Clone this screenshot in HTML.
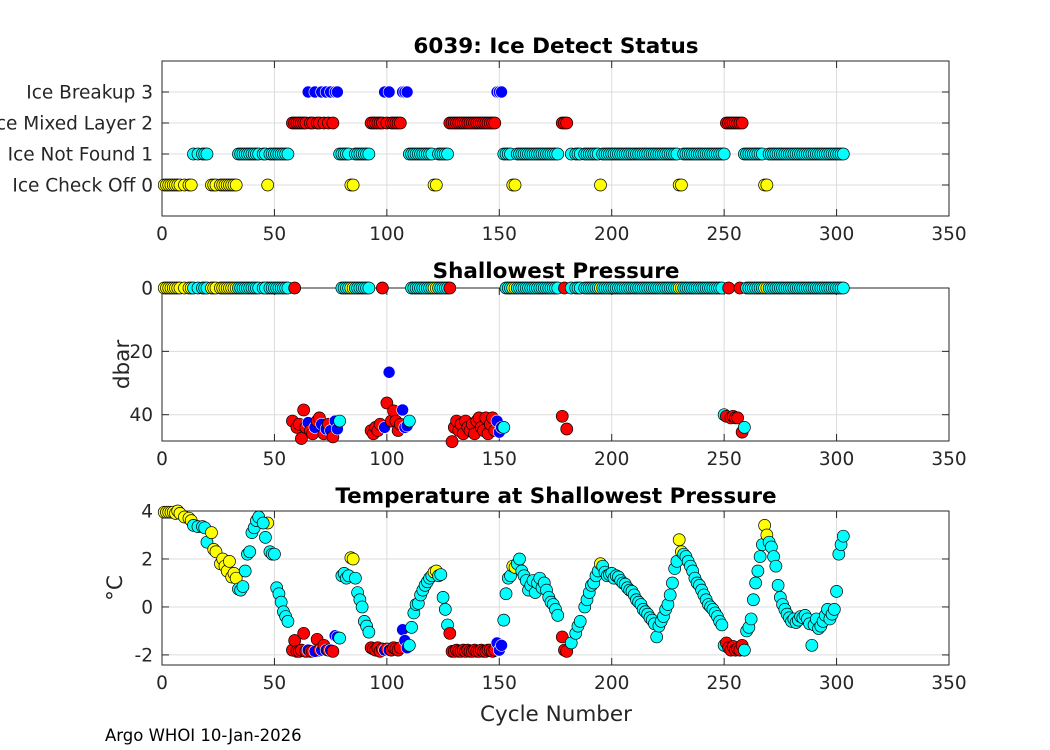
<!DOCTYPE html>
<html><head><meta charset="utf-8">
<style>
html,body{margin:0;padding:0;background:#fff;}
svg{display:block;font-family:"DejaVu Sans","Liberation Sans",sans-serif;}
</style></head>
<body>
<svg id="fig" width="1050" height="750" viewBox="0 0 1050 750" xmlns="http://www.w3.org/2000/svg"></svg>
<script>
const cycles=[
1,2,3,4,5,6,7,8,10,12,
13,14,16,18,19,20,22,23,24,26,
27,28,29,30,31,32,33,34,35,36,
37,38,39,40,41,42,43,47,45,46,
48,49,50,51,52,53,54,55,56,
58,59,60,61,62,63,64,65,66,67,
68,69,70,71,72,73,74,75,76,77,
78,79,80,81,82,83,84,85,86,87,
88,89,90,91,92,
93,94,95,96,97,98,99,100,101,102,
103,104,105,106,107,108,109,110,111,112,
113,114,115,116,117,118,119,120,121,122,
123,124,125,126,127,
128,129,130,131,132,133,134,135,136,137,
138,139,140,141,142,143,144,145,146,147,
148,149,150,151,152,153,154,155,156,157,
158,159,160,161,162,163,164,165,166,167,
168,169,170,171,172,173,174,175,176,
178,179,180,182,184,185,186,188,189,190,
191,192,193,194,195,196,197,198,199,200,
201,202,203,204,205,206,207,208,209,210,
211,212,213,214,215,216,217,218,219,220,
221,222,223,224,225,226,227,228,229,230,
231,232,233,234,235,236,237,238,239,240,
241,242,243,244,245,246,247,248,249,
250,251,252,253,254,255,256,257,258,259,
260,261,262,263,264,265,266,267,268,269,
270,271,272,273,274,275,276,277,278,279,
280,281,282,283,284,285,286,287,288,289,
290,291,292,293,294,295,296,297,298,299,
300,301,302,303];
const status=[
0,0,0,0,0,0,0,0,0,0,
0,1,1,1,1,1,0,0,0,0,
0,0,0,0,0,0,0,1,1,1,
1,1,1,1,1,1,1,0,1,1,
1,1,1,1,1,1,1,1,1,
2,2,2,2,2,2,2,3,2,2,
3,2,2,3,2,3,2,3,2,3,
3,1,1,1,1,1,0,0,1,1,
1,1,1,1,1,
2,2,2,2,2,2,3,2,3,2,
2,2,2,2,3,3,3,1,1,1,
1,1,1,1,1,1,1,1,0,0,
1,1,1,1,1,
2,2,2,2,2,2,2,2,2,2,
2,2,2,2,2,2,2,2,2,2,
2,3,3,3,1,1,1,1,0,0,
1,1,1,1,1,1,1,1,1,1,
1,1,1,1,1,1,1,1,1,
2,2,2,1,1,1,1,1,1,1,
1,1,1,1,0,1,1,1,1,1,
1,1,1,1,1,1,1,1,1,1,
1,1,1,1,1,1,1,1,1,1,
1,1,1,1,1,1,1,1,1,0,
0,1,1,1,1,1,1,1,1,1,
1,1,1,1,1,1,1,1,1,
1,2,2,2,2,2,2,2,2,1,
1,1,1,1,1,1,1,1,0,0,
1,1,1,1,1,1,1,1,1,1,
1,1,1,1,1,1,1,1,1,1,
1,1,1,1,1,1,1,1,1,1,
1,1,1,1];
const pressure=[
0,0,0,0,0,0,0,0,0,0,
0,0,0,0,0,0,0,0,0,0,
0,0,0,0,0,0,0,0,0,0,
0,0,0,0,0,0,0,0,0,0,
0,0,0,0,0,0,0,0,0,
42,0,44,43,47.5,38.5,44,42.5,45,46,
44,42,41,43,46,44.5,43,45,47,42,
44.5,42,0,0,0,0,0,0,0,0,
0,0,0,0,0,
45,46,44,45,43,0,44,36.3,26.6,42,
38.8,42,45,43,38.5,44,43.5,42,0,0,
0,0,0,0,0,0,0,0,0,0,
0,0,0,0,0,
0,48.5,44,42,45,43,46,42,44,45,
43,46,42,41,44,45,41,46,43,41,
45,42,45.5,44,44,0,0,0,0,0,
0,0,0,0,0,0,0,0,0,0,
0,0,0,0,0,0,0,0,0,
40.5,0,44.5,0,0,0,0,0,0,0,
0,0,0,0,0,0,0,0,0,0,
0,0,0,0,0,0,0,0,0,0,
0,0,0,0,0,0,0,0,0,0,
0,0,0,0,0,0,0,0,0,0,
0,0,0,0,0,0,0,0,0,0,
0,0,0,0,0,0,0,0,0,
40,40.5,0,41,40.5,41,41,0,45.5,44,
0,0,0,0,0,0,0,0,0,0,
0,0,0,0,0,0,0,0,0,0,
0,0,0,0,0,0,0,0,0,0,
0,0,0,0,0,0,0,0,0,0,
0,0,0,0];
const temperature=[
3.95,3.95,3.95,3.95,3.95,3.9,4.0,3.9,3.75,3.7,
3.6,3.4,3.35,3.35,3.3,2.7,3.1,2.4,2.3,1.8,
2.0,1.7,1.5,1.9,1.25,1.4,1.2,0.75,0.7,0.85,
1.5,2.2,2.3,3.1,3.3,3.6,3.75,3.5,3.5,2.9,
2.3,2.2,2.2,0.8,0.55,0.2,-0.2,-0.4,-0.6,
-1.8,-1.4,-1.85,-1.85,-1.8,-1.1,-1.85,-1.8,-1.85,-1.85,
-1.85,-1.35,-1.8,-1.8,-1.6,-1.8,-1.8,-1.8,-1.85,-1.2,
-1.25,-1.3,1.3,1.4,1.2,1.3,2.05,2.0,1.2,0.6,
0.3,0,-0.6,-0.8,-1.05,
-1.7,-1.75,-1.8,-1.7,-1.85,-1.75,-1.8,-1.75,-1.8,-1.8,
-1.7,-1.75,-1.8,-1.7,-0.95,-1.4,-1.7,-1.6,-0.85,-0.25,
0.1,0.15,0.5,0.7,0.9,1.05,1.2,1.3,1.45,1.5,
1.3,1.35,0.4,-0.1,-0.75,
-1.1,-1.85,-1.85,-1.8,-1.85,-1.85,-1.8,-1.85,-1.8,-1.85,
-1.85,-1.8,-1.85,-1.85,-1.8,-1.85,-1.85,-1.8,-1.8,-1.85,
-1.8,-1.5,-1.8,-1.6,-0.55,0.55,1.2,1.3,1.7,1.65,
1.8,2.0,1.5,1.3,1.1,0.7,0.9,1.1,0.6,1.0,
1.2,0.8,1.0,0.7,0.4,0.2,0.1,-0.1,-0.35,
-1.25,-1.8,-1.85,-1.5,-1.1,-0.8,-0.6,0,0.3,0.6,
0.9,1.0,1.3,1.5,1.8,1.7,1.45,1.3,1.35,1.4,
1.2,1.3,1.25,1.1,1.0,0.95,0.8,0.7,0.65,0.5,
0.3,0.2,0.1,-0.1,-0.2,-0.3,-0.45,-0.55,-0.7,-1.25,
-0.8,-0.6,-0.4,-0.1,0.1,0.5,1.0,1.6,1.9,2.8,
2.3,2.2,2.1,1.9,1.7,1.5,1.2,1.0,0.9,0.7,
0.5,0.3,0.1,0.0,-0.1,-0.25,-0.4,-0.6,-0.75,
-1.6,-1.5,-1.7,-1.8,-1.65,-1.8,-1.75,-1.8,-1.6,-1.8,
-1.0,-0.85,-0.5,0.3,1.0,1.5,2.1,2.6,3.4,3.0,
2.7,2.5,2.1,1.7,0.9,0.4,0.1,-0.1,-0.3,-0.45,
-0.6,-0.5,-0.65,-0.55,-0.4,-0.45,-0.35,-0.5,-0.7,-1.6,
-0.75,-0.5,-0.9,-0.8,-0.6,-0.35,-0.1,-0.5,-0.3,-0.1,
0.65,2.2,2.6,2.95];
const xTicks=[0,50,100,150,200,250,300,350];
const statusTicks=[0,1,2,3];
const statusLabels=["Ice Check Off 0","Ice Not Found 1","Ice Mixed Layer 2","Ice Breakup 3"];
const pressTicks=[0,20,40];
const tempTicks=[-2,0,2,4];
const colors=["#ffff00","#00ffff","#ff0000","#0000ff"];

const svg=document.getElementById('fig');
const NS='http://www.w3.org/2000/svg';
function mk(tag,attrs,parent){const e=document.createElementNS(NS,tag);for(const k in attrs)e.setAttribute(k,attrs[k]);(parent||svg).appendChild(e);return e;}
const X0=162,X1=949;
function xs(c){return X0+(c-0)/(350-0)*(X1-X0);}
const panels=[
 {name:'ice-status',top:61,bot:216,ymin:-1,ymax:4,rev:false,title:'6039: Ice Detect Status',ticks:statusTicks,labels:statusLabels,vals:status,ty:53},
 {name:'pressure',top:288,bot:441,ymin:0,ymax:48.3,rev:true,title:'Shallowest Pressure',ticks:pressTicks,labels:pressTicks.map(String),vals:pressure,ty:278,ylab:'dbar',ylx:129},
 {name:'temperature',top:511,bot:665,ymin:-2.42,ymax:4,rev:false,title:'Temperature at Shallowest Pressure',ticks:tempTicks,labels:tempTicks.map(String),vals:temperature,ty:503,ylab:'°C',ylx:122}
];
panels.forEach(p=>{
 const g=mk('g',{});
 
 
 const ys=v=>p.rev? p.top+(v-p.ymin)/(p.ymax-p.ymin)*(p.bot-p.top) : p.bot-(v-p.ymin)/(p.ymax-p.ymin)*(p.bot-p.top);
 mk('rect',{x:X0,y:p.top,width:X1-X0,height:p.bot-p.top,fill:'#fff'},g);
 const grid=mk('g',{stroke:'#dcdcdc','stroke-width':1},g);
 
 
 xTicks.forEach(t=>{mk('line',{x1:xs(t),x2:xs(t),y1:p.top,y2:p.bot},grid);});
 p.ticks.forEach(t=>{mk('line',{x1:X0,x2:X1,y1:ys(t),y2:ys(t)},grid);});
 const box=mk('rect',{x:X0,y:p.top,width:X1-X0,height:p.bot-p.top,fill:'none',stroke:'#262626','stroke-width':1},g);
 
 
 const tk=mk('g',{stroke:'#262626','stroke-width':1},g);
 xTicks.forEach(t=>{mk('line',{x1:xs(t),x2:xs(t),y1:p.bot,y2:p.bot-7},tk);mk('line',{x1:xs(t),x2:xs(t),y1:p.top,y2:p.top+7},tk);});
 p.ticks.forEach(t=>{mk('line',{x1:X0,x2:X0+7,y1:ys(t),y2:ys(t)},tk);mk('line',{x1:X1,x2:X1-7,y1:ys(t),y2:ys(t)},tk);});
 xTicks.forEach(t=>{const e=mk('text',{x:xs(t),y:p.bot+24,'text-anchor':'middle','font-size':18.5,fill:'#262626'},g);e.textContent=t;
  });
 p.ticks.forEach((t,i)=>{const e=mk('text',{x:153,y:ys(t)+6.5,'text-anchor':'end','font-size':18.5,fill:'#262626'},g);e.textContent=p.labels[i];
  });
 const tt=mk('text',{x:556,y:p.ty,'text-anchor':'middle','font-size':21.5,'font-weight':'bold',fill:'#000'},g);tt.textContent=p.title;
 
 if(p.ylab){const yl=mk('text',{x:p.ylx,y:(p.top+p.bot)/2,'text-anchor':'middle','font-size':21.5,fill:'#262626',transform:`rotate(-90 ${p.ylx} ${(p.top+p.bot)/2})`},g);yl.textContent=p.ylab;
  }
 const mg=mk('g',{},g);
 
 
 cycles.forEach((c,i)=>{
  const s=status[i];
  const v=p.vals[i];
  if(v===undefined||s===undefined) return;
  const m=mk('circle',{cx:xs(c),cy:ys(v),r:6,fill:colors[s],stroke:s===3?'#fff':'#000','stroke-width':s===3?0.6:0.7},mg);
  
  
 });
});
const xl=mk('text',{x:556,y:721,'text-anchor':'middle','font-size':21.5,fill:'#262626'});xl.textContent='Cycle Number';


const ft=mk('text',{x:105,y:741,'font-size':16.5,fill:'#000'});ft.textContent='Argo WHOI 10-Jan-2026';


</script>
</body></html>
